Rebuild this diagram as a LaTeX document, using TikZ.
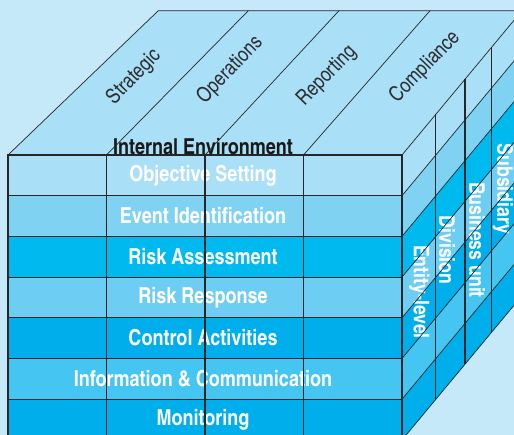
\documentclass[tikz,border=0pt]{standalone}
\usepackage{fontspec}
\setmainfont{texgyreheroscn}[Extension=.otf, UprightFont=*-regular, BoldFont=*-bold]
\usetikzlibrary{calc}

\definecolor{bgblue}{HTML}{C6E9F9}
\definecolor{paleblue}{HTML}{A9DFF7}
\definecolor{midblue}{HTML}{80D2F3}
\definecolor{cyanblue}{HTML}{00B9EF}
\definecolor{softblue}{HTML}{6ECDF2}
\definecolor{deepblue}{HTML}{00AEEB}
\definecolor{skyblue}{HTML}{45C5F1}
\definecolor{edgegray}{HTML}{262626}
\definecolor{textgray}{HTML}{2E2E2E}

\begin{document}
\begin{tikzpicture}[
  x=1pt,
  y=-1pt,
  topface/.style={fill=paleblue},
  objset/.style={fill=paleblue},
  eventid/.style={fill=midblue},
  riskass/.style={fill=cyanblue},
  riskresp/.style={fill=softblue},
  ctrlact/.style={fill=deepblue},
  infocom/.style={fill=skyblue},
  monit/.style={fill=deepblue},
  grid/.style={draw=edgegray, line width=1.1pt},
  slant/.style={draw=edgegray, line width=0.7pt},
  frontlbl/.style={text=white, font=\bfseries\fontsize{22}{22}\selectfont},
  toplbl/.style={text=textgray, font=\fontsize{21}{21}\selectfont, rotate=46},
  sidelbl/.style={text=white, font=\bfseries\fontsize{21.5}{21.5}\selectfont, rotate=-90}
  ]
    \useasboundingbox (0,0) rectangle (514,435);
    \clip (0,0) rectangle (514,435);
    \fill[bgblue] (0,0) rectangle (514,435);

    % corners of the cube
    \coordinate (ftl) at (8,155);
    \coordinate (ftr) at (402,155);
    \coordinate (fbl) at (8,440);
    \coordinate (fbr) at (402,440);
    \coordinate (btl) at (158.3,10.7);
    \coordinate (btr) at (522,10.7);
    \coordinate (bbr) at (522,295.7);

% top face
\path[topface] (ftl) -- (btl) -- (btr) -- (ftr) -- cycle;

% front rows
\path[objset]   (8,155)   rectangle (402,195.7);
\path[eventid]  (8,195.7) rectangle (402,236.4);
\path[riskass]  (8,236.4) rectangle (402,277.1);
\path[riskresp] (8,277.1) rectangle (402,317.8);
\path[ctrlact]  (8,317.8) rectangle (402,358.5);
\path[infocom]  (8,358.5) rectangle (402,399.2);
\path[monit]    (8,399.2) rectangle (402,440);

% side bands (same rows, going back)
\path[objset]   (402,155)   -- +(120,-144.3) -- (522,51.4)  -- (402,195.7) -- cycle;
\path[eventid]  (402,195.7) -- +(120,-144.3) -- (522,92.1)  -- (402,236.4) -- cycle;
\path[riskass]  (402,236.4) -- +(120,-144.3) -- (522,132.8) -- (402,277.1) -- cycle;
\path[riskresp] (402,277.1) -- +(120,-144.3) -- (522,173.5) -- (402,317.8) -- cycle;
\path[ctrlact]  (402,317.8) -- +(120,-144.3) -- (522,214.2) -- (402,358.5) -- cycle;
\path[infocom]  (402,358.5) -- +(120,-144.3) -- (522,254.9) -- (402,399.2) -- cycle;
\path[monit]    (402,399.2) -- +(120,-144.3) -- (bbr) -- (fbr) -- cycle;

% labels on top
\node[toplbl] (strategic) at (134,77) {Strategic};
\node[toplbl] (operations) at (230,70) {Operations};
\node[toplbl] (reporting) at (327,76) {Reporting};
\node[toplbl] (compliance) at (425,67) {Compliance};

% labels on front
\node[frontlbl, text=black!90] (internal) at (203,146.5) {Internal Environment};
\node[frontlbl] (objective) at (203,175.3) {Objective Setting};
\node[frontlbl] (event) at (203,216) {Event Identification};
\node[frontlbl] (assess) at (203,256.7) {Risk Assessment};
\node[frontlbl] (response) at (203,297.4) {Risk Response};
\node[frontlbl] (control) at (203,338.1) {Control Activities};
\node[frontlbl] (info) at (203,378.8) {Information \& Communication};
\node[frontlbl] (monitoring) at (203,419.5) {Monitoring};

% labels on side
\node[sidelbl] (entity) at (419.5,292) {Entity-level};
\node[sidelbl] (division) at (447,250) {Division};
\node[sidelbl] (business) at (477,240) {Business unit};
\node[sidelbl] (subsidiary) at (503,189) {Subsidiary};

% top face lines
\draw[slant] (ftl) -- (btl) -- (btr);
\draw[slant] (106.5,155) -- (248.3,10.7);
\draw[slant] (205,155) -- (339,10.7);
\draw[slant] (303.5,155) -- (430,10.7);
\draw[slant] (ftr) -- (btr);

% side face lines
\draw[slant] (402,195.7) -- +(120,-144.3);
\draw[slant] (402,236.4) -- +(120,-144.3);
\draw[slant] (402,277.1) -- +(120,-144.3);
\draw[slant] (402,317.8) -- +(120,-144.3);
\draw[slant] (402,358.5) -- +(120,-144.3);
\draw[slant] (402,399.2) -- +(120,-144.3);
\draw[slant] (fbr) -- (bbr);
\draw[grid] (435.7,114.5) -- (435.7,399.5);
\draw[grid] (465,79.2) -- (465,364.2);
\draw[grid] (491.7,47.1) -- (491.7,332.1);
\draw[grid] (btr) -- (bbr);

% front grid
\draw[grid] (ftl) rectangle (fbr);
\draw[grid] (106.5,155) -- (106.5,440);
\draw[grid] (205,155) -- (205,440);
\draw[grid] (303.5,155) -- (303.5,440);
\draw[grid] (8,195.7) -- +(394,0);
\draw[grid] (8,236.4) -- +(394,0);
\draw[grid] (8,277.1) -- +(394,0);
\draw[grid] (8,317.8) -- +(394,0);
\draw[grid] (8,358.5) -- +(394,0);
\draw[grid] (8,399.2) -- +(394,0);

\end{tikzpicture}
\end{document}
